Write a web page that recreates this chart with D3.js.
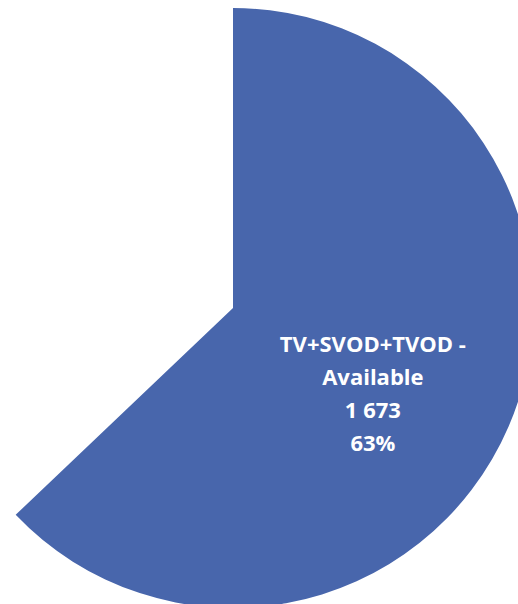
<!DOCTYPE html>
<html>
<head>
<meta charset="utf-8">
<script src="https://cdn.jsdelivr.net/npm/d3@7"></script>
<style>
  body { margin: 0; background: #fff; }
</style>
</head>
<body>
<svg id="pie-chart"></svg>
<script>
// Data
const categories = ["TV+SVOD+TVOD - Available", "Other"];
const values = [1673, 987];
const percents = ["63%", "37%"];
const showSlice = [true, false];

const width = 518, height = 604;
const cx = 233, cy = 308, radius = 300;

const svg = d3.select("#pie-chart")
    .attr("width", width)
    .attr("height", height);

const g = svg.append("g")
    .attr("transform", `translate(${cx},${cy})`);

const slices = categories.map((c, i) => ({ name: c, value: values[i], pct: percents[i], show: showSlice[i] }));

const pie = d3.pie()
    .sort(null)
    .value(d => d.value);

const arc = d3.arc()
    .innerRadius(0)
    .outerRadius(radius);

const arcs = g.selectAll(".arc")
    .data(pie(slices))
    .enter().append("g")
    .attr("class", "arc");

arcs.append("path")
    .attr("d", arc)
    .attr("fill", d => d.data.show ? "#4866ac" : "none");

// Label for the visible slice
const fmt = v => d3.format(",")(v).replace(/,/g, " ");

arcs.filter(d => d.data.show)
    .append("text")
    .attr("transform", d => {
        const [x, y] = arc.centroid(d);
        return `translate(${x + 2},${y + 28})`;
    })
    .attr("text-anchor", "middle")
    .attr("fill", "#fff")
    .style("font-family", "'Open Sans', sans-serif")
    .style("font-weight", "bold")
    .style("font-size", "22px")
    .selectAll("tspan")
    .data(d => ["TV+SVOD+TVOD -", "Available", fmt(d.data.value), d.data.pct])
    .enter().append("tspan")
    .attr("x", 0)
    .attr("y", (t, i) => -43 + i * 33)
    .text(t => t);
</script>
</body>
</html>
